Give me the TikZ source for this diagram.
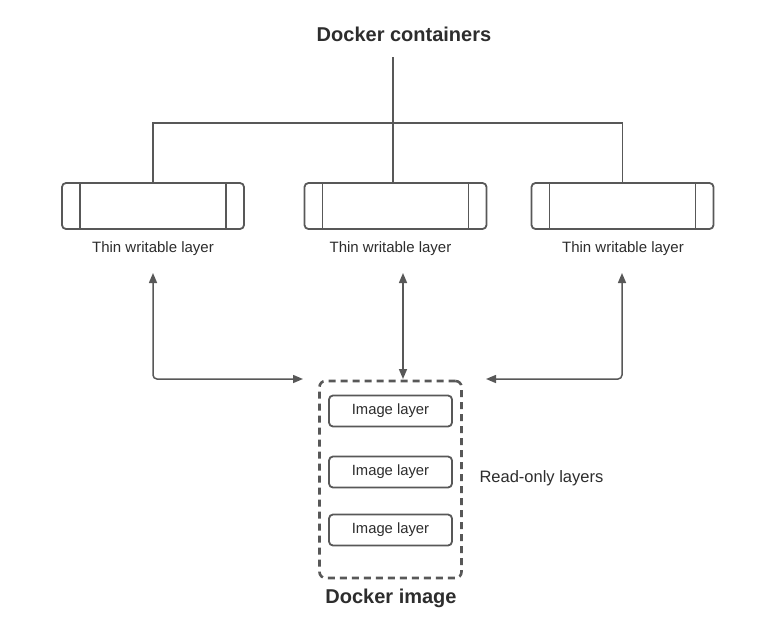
\documentclass[tikz,border=0pt]{standalone}
\usepackage{fontspec}
\setmainfont{Liberation Sans}
\usetikzlibrary{arrows.meta}
\definecolor{L}{RGB}{88,88,88}
\definecolor{T}{RGB}{45,45,45}

\begin{document}
\begin{tikzpicture}[x=1pt,y=-1pt,
  cont/.style={draw=L, line width=1.8pt, rounded corners=4pt, minimum width=182pt, minimum height=46pt,
    path picture={
      \draw[L, line width=1.8pt] ([xshift=18pt]path picture bounding box.north west) -- ([xshift=18pt]path picture bounding box.south west);
      \draw[L, line width=1.8pt] ([xshift=-18pt]path picture bounding box.north east) -- ([xshift=-18pt]path picture bounding box.south east);}},
  layer/.style={draw=L, line width=1.8pt, rounded corners=4pt, minimum width=123pt, minimum height=31pt, text=T, font=\fontsize{14.8}{17}\selectfont},
  lbl/.style={text=T, font=\fontsize{15}{18}\selectfont},
  head/.style={text=T, font=\bfseries\fontsize{20}{24}\selectfont},
  con/.style={L, line width=1.3pt},
  arr/.style={L, line width=1.5pt, rounded corners=4pt, {Triangle[length=10pt,width=8pt]}-{Triangle[length=10pt,width=8pt]}}]
  \useasboundingbox[fill=white] (0,0) rectangle (768,630);

  %# DOCKER CONTAINERS
  \node[head] (dc) at (404,34) {Docker containers};
  \node[cont] (c1) at (153,206) {};
  \node[cont] (c2) at (395.5,206) {};
  \node[cont] (c3) at (622.5,206) {};
  \node[lbl] (l1) at (153,249) {Thin writable layer};
  \node[lbl] (l2) at (390.5,249) {Thin writable layer};
  \node[lbl] (l3) at (623,249) {Thin writable layer};

  %# TREE
  \coordinate (top) at (393,57);
  \draw[con] (top) -- (393,183);
  \draw[con] (c1.north) |- (393,123) -| (c3.north);

  %# DOCKER IMAGE
  \node[draw=L, line width=2.6pt, dash pattern=on 7pt off 5pt, rounded corners=6pt, minimum width=142pt, minimum height=197pt] (img) at (390.5,479.5) {};
  \node[layer] (i1) at (390.5,411) {Image layer};
  \node[layer] (i2) at (390.5,472) {Image layer};
  \node[layer] (i3) at (390.5,530) {Image layer};
  \node[lbl, anchor=west, font=\fontsize{16.5}{19}\selectfont] (ro) at (476,478) {Read-only layers};
  \node[head] (di) at (391,598) {Docker image};

  %# ARROWS
  \coordinate (a1) at (153,273);
  \coordinate (a2) at (403,273);
  \coordinate (a3) at (622,273);
  \coordinate (b1) at (303,379);
  \coordinate (b2) at (403,379);
  \coordinate (b3) at (486,379);
  \draw[arr] (a1) |- (b1);
  \draw[arr] (a2) -- (b2);
  \draw[arr] (a3) |- (b3);
\end{tikzpicture}
\end{document}
